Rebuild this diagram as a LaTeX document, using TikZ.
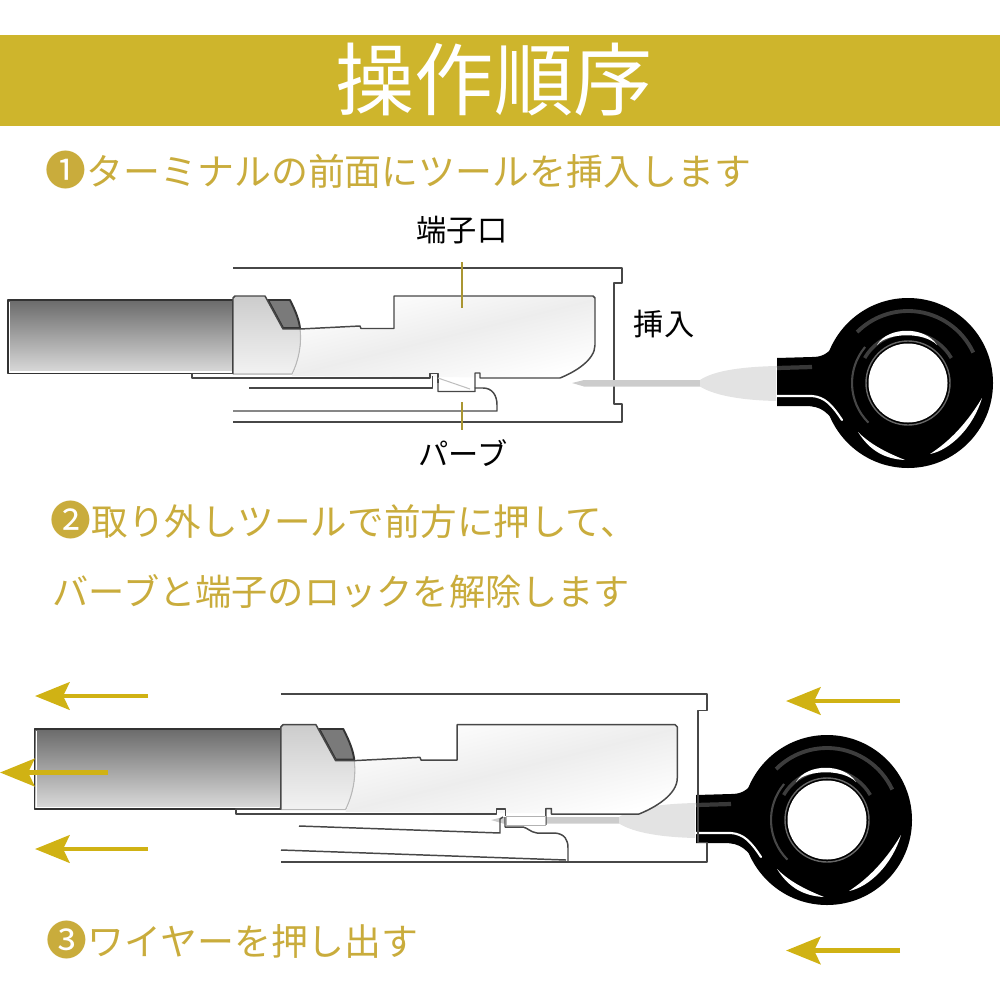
\documentclass[tikz,border=0pt]{standalone}
\usepackage{fontspec}
\setmainfont{Noto Sans CJK JP}
\usetikzlibrary{arrows.meta}
\definecolor{bandgold}{RGB}{206,181,44}
\definecolor{textgold}{RGB}{201,172,60}
\definecolor{arrowgold}{RGB}{208,178,20}
\definecolor{tickgold}{RGB}{170,150,50}
\newcommand{\stepmark}[1]{{\fontsize{11.6}{12}\selectfont #1}}
% wire, crimp and contact, drawn at the size of the upper figure
\newcommand{\housing}{
\draw[edge] (233,268)--(622,268)--(622,283)--(614,283)--(614,404)--(622,404)--(622,422)--(233,422);
}
\newcommand{\contact}{
\path[top color=white,bottom color=white,middle color=black!7,shading angle=14]
  (300,329)--(360,327)--(361,329)--(394,329)--(394,296)--(595,296)--(595,345)
  .. controls (595,360) and (575,372) .. (560,378)--(292,376)
  .. controls (298,365) and (301,345) .. cycle;
\draw[wireline,top color=black!58,bottom color=black!14] (8,300) rectangle (233,373.5);
\draw[white,line width=0.35pt] (9.5,302)--(9.5,372)--(231.5,372);
\draw[wireline,fill=black!52] (268,300)--(290,300) .. controls (296,312) and (299,320) .. (300,328)--(283,328)--cycle;
\fill[top color=black!20,bottom color=black!5] (233,374)--(233,298)--(235,296)--(265,296)--(283,329)--(300,329)
  .. controls (302,345) and (298,362) .. (292,374)--cycle;
\draw[black!28,line width=0.3pt] (300,329) .. controls (302,345) and (298,362) .. (292,374)--(233,374);
\draw[edge] (233,374)--(233,298)--(235,296)--(265,296)--(283,329)--(300,329)--(360,326)--(361,328.5)--(394,328.5)
  --(394,296)--(593,296)--(595,298)--(595,345) .. controls (595,360) and (575,372) .. (560,378)--(480,378)--(480,373)--(475,373)--(475,388);
\draw[edge] (233,373.5)--(192,373.5)--(192,378)--(430,378)--(430,373.5)--(438,373.5)--(438,383);
}
\newcommand{\ringtool}{
\fill[black!20] (572,383)--(584,380)--(700,380)--(700,386.5)--(584,386.5)--cycle;
\fill[black!11] (700,380) .. controls (712,372) and (735,367) .. (776,366)--(776,401) .. controls (735,400) and (712,394) .. (700,386.5)--cycle;
\fill[black] (908,383) circle (85);
\fill[black] (777,358)--(812,357) .. controls (822,357) and (827,354) .. (834,346)--(840,430)
  .. controls (828,412) and (822,406) .. (805,406)--(777,406)--cycle;
\draw[black!78,line width=1.2pt] (777,368)--(812,367);
% shine on the ring
\draw[black!76,line width=1.1pt] (908,383) ++(-25:72) arc[start angle=-25,end angle=-135,radius=72];
\draw[black!76,line width=1pt] (908,383) ++(-30:50) arc[start angle=-30,end angle=-150,radius=50];
\draw[black!72,line width=0.6pt] (908,383) ++(-140:56) arc[start angle=-140,end angle=-225,radius=56];
\draw[black!60,line width=0.4pt] (908,383) circle (42);
\draw[white,line width=0.6pt,line cap=round] (777,396)--(812,396) .. controls (825,397) and (832,405) .. (842,420);
\fill[white] (877,345) .. controls (888,326) and (925,326) .. (937,345) .. controls (925,332) and (888,332) .. cycle;
\fill[white] (858,432) .. controls (870,451) and (885,459) .. (905,460) .. controls (885,452) and (870,444) .. cycle;
\fill[white] (930,454) .. controls (950,450) and (973,428) .. (982,398) .. controls (967,423) and (950,441) .. cycle;
\fill[white] (908,383) circle (39.5);
}
\begin{document}
\begin{tikzpicture}[x=0.01cm,y=-0.01cm,
  edge/.style={draw=black!72,line width=0.42pt,line join=round},
  wireline/.style={draw=black!80,line width=0.55pt,line join=round},
  tick/.style={draw=tickgold,line width=0.3pt},
  push/.style={draw=arrowgold,line width=1.4pt,-{Stealth[length=9.8pt,width=7.8pt,inset=1.8pt]}},
  steptext/.style={anchor=west,inner sep=0pt,text=textgold,font=\fontsize{10.5}{12}\selectfont},
  partlabel/.style={inner sep=0pt,text=black,font=\fontsize{8.6}{10}\selectfont}]
\useasboundingbox (0,0) rectangle (1000,1000);
\fill[bandgold] (0,35) rectangle (1000,126);
\node[inner sep=0pt,text=white,font=\fontsize{22.5}{26}\selectfont] (title) at (494,80) {操作順序};
\node[steptext] (step1) at (45,170) {\stepmark{❶}ターミナルの前面にツールを挿入します};
\node[steptext,font=\fontsize{10.4}{12}\selectfont] (step2a) at (50,520) {\stepmark{❷}取り外しツールで前方に押して、};
\node[steptext,font=\fontsize{10.3}{12}\selectfont] (step2b) at (52,591) {バーブと端子のロックを解除します};
\node[steptext] (step3) at (46,940) {\stepmark{❸}ワイヤーを押し出す};
% upper figure
\housing
\ringtool
\contact
\draw[edge] (249,388)--(432.5,388)--(432.5,376);
\draw[edge] (438,383)--(438,391.5)--(475,391.5)--(475,388)--(483,388) .. controls (492,388) and (497,395) .. (497,405)--(497,411)--(233,411);
\draw[black!25,line width=0.3pt] (438,378)--(470,389);
\node[partlabel] (port) at (462,230) {端子口};
\node[partlabel] (barb) at (463,453) {パーブ};
\node[partlabel] (insert) at (664,324) {挿入};
\coordinate (porttop) at (462,262);
\coordinate (portend) at (462,308);
\coordinate (barbtop) at (462,402);
\coordinate (barbend) at (462,430);
\draw[tick] (porttop)--(portend);
\draw[tick] (barbtop)--(barbend);
% lower figure
\begin{scope}[shift={(-81,437)}]
\ringtool
\end{scope}
\begin{scope}[shift={(25.74,402)},xscale=1.095,yscale=1.09]
\housing
\contact
\end{scope}
\fill[white] (505,816) rectangle (545,827);
\draw[black!30,line width=0.2pt] (506,816) rectangle (545,825);
\draw[edge] (299,826)--(500,833)--(500,819)--(503,817);
\draw[edge] (505,817)--(505,827)--(523,827) .. controls (528,828) and (530,832) .. (537,833)--(555,833)
  .. controls (565,834) and (568,840) .. (568,848)--(568,861);
\draw[edge] (281,850)--(566,860);
% arrows
\coordinate (outa) at (148,696);
\coordinate (outaend) at (35,696);
\coordinate (outb) at (108,772.5);
\coordinate (outbend) at (0,772.5);
\coordinate (outc) at (148,849);
\coordinate (outcend) at (35,849);
\coordinate (ina) at (900,701);
\coordinate (inaend) at (786,701);
\coordinate (inb) at (900,950.5);
\coordinate (inbend) at (786,950.5);
\draw[push] (outa)--(outaend);
\draw[push] (outb)--(outbend);
\draw[push] (outc)--(outcend);
\draw[push] (ina)--(inaend);
\draw[push] (inb)--(inbend);
\end{tikzpicture}
\end{document}
